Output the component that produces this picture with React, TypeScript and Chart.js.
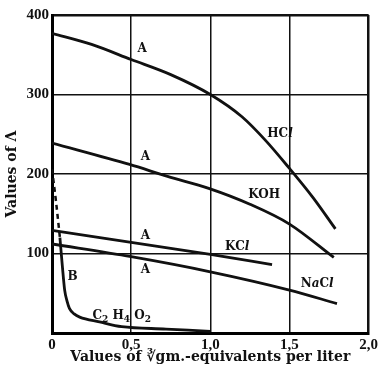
import React, { useEffect, useRef } from 'react';
import { Chart, registerables } from 'chart.js';

Chart.register(...registerables);

// ---- data ----
const xTickValues = [0, 0.5, 1.0, 1.5, 2.0];
const xTickLabels = ['0', '0,5', '1,0', '1,5', '2,0'];
const yTickValues = [0, 100, 200, 300, 400];
const yTickLabels = ['', '100', '200', '300', '400'];

const hclX = [0, 0.25, 0.5, 0.75, 1.0, 1.2, 1.35, 1.5, 1.65, 1.79];
const hclY = [377, 363, 344, 325, 300, 272, 242, 207, 170, 131];

const kohX = [0, 0.49, 0.73, 0.99, 1.25, 1.5, 1.78];
const kohY = [239, 212, 197, 182, 162, 137, 95];

const kclX = [0, 0.5, 1.0, 1.39];
const kclY = [129, 114, 99, 86];

const naclX = [0, 0.5, 1.0, 1.5, 1.8];
const naclY = [112, 96, 77, 54, 37];

const aceticX = [0.05, 0.065, 0.08, 0.095, 0.11, 0.14, 0.175, 0.3, 0.44, 0.72, 1.0];
const aceticY = [120, 85, 54, 40, 31, 24, 20, 14, 8, 5, 2];

const aceticDashX = [0.0, 0.025, 0.05];
const aceticDashY = [206, 166, 120];

// curve labels: *x* = italic, _x_ = subscript
const labelTexts = ['A', 'A', 'A', 'A', 'B', 'HC*l*', 'KOH', 'KC*l*', 'N*a*C*l*', 'C_2_ H_4_ O_2_'];
const labelX = [0.57, 0.59, 0.59, 0.59, 0.13, 1.44, 1.34, 1.17, 1.675, 0.44];
const labelY = [357, 222, 122, 80, 70, 251, 174, 108, 62, 22];

const xTitle = 'Values of \u221Bgm.-equivalents per liter';
const yTitle = 'Values of \u039B';

const FONT = '"Liberation Serif", "DejaVu Serif", serif';
const WIDE = '"DejaVu Serif", "Liberation Serif", serif';
const INK = '#111';

const pts = (xs: number[], ys: number[]) => xs.map((x, i) => ({ x, y: ys[i] }));

function parseRich(s: string) {
  const parts: { t: string; it: boolean; sub: boolean }[] = [];
  let cur = '';
  let it = false;
  let sub = false;
  const push = () => {
    if (cur) parts.push({ t: cur, it, sub });
    cur = '';
  };
  for (const c of s) {
    if (c === '*') { push(); it = !it; }
    else if (c === '_') { push(); sub = !sub; }
    else cur += c;
  }
  push();
  return parts;
}

function drawRich(ctx: CanvasRenderingContext2D, text: string, cx: number, cy: number) {
  const parts = parseRich(text);
  const fontFor = (p: { it: boolean; sub: boolean }) =>
    `${p.it ? 'italic ' : ''}bold ${p.sub ? 9 : 12}px ${WIDE}`;
  let total = 0;
  const widths = parts.map((p) => {
    ctx.font = fontFor(p);
    const w = ctx.measureText(p.t).width;
    total += w;
    return w;
  });
  let x = cx - total / 2;
  parts.forEach((p, i) => {
    ctx.font = fontFor(p);
    ctx.fillText(p.t, x, cy + (p.sub ? 4 : 0));
    x += widths[i];
  });
}

const labelPlugin = {
  id: 'curveLabels',
  afterDatasetsDraw(chart: any) {
    const { ctx, scales } = chart;
    ctx.save();
    ctx.fillStyle = INK;
    ctx.textBaseline = 'middle';
    ctx.textAlign = 'left';
    labelTexts.forEach((t, i) => {
      const px = scales.x.getPixelForValue(labelX[i]);
      const py = scales.y.getPixelForValue(labelY[i]);
      drawRich(ctx, t, px, py);
    });
    ctx.restore();
  },
};

const line = (data: any[], extra: any = {}) => ({
  data,
  showLine: true,
  borderColor: INK,
  borderWidth: 2.8,
  pointRadius: 0,
  cubicInterpolationMode: 'monotone',
  fill: false,
  ...extra,
});

export default function App() {
  const ref = useRef<HTMLCanvasElement | null>(null);

  useEffect(() => {
    if (!ref.current) return;
    const chart = new Chart(ref.current, {
      type: 'scatter',
      data: {
        datasets: [
          line(pts(hclX, hclY)),
          line(pts(kohX, kohY)),
          line(pts(kclX, kclY)),
          line(pts(naclX, naclY)),
          line(pts(aceticX, aceticY)),
          line(pts(aceticDashX, aceticDashY), { borderDash: [5, 4], borderWidth: 2.5 }),
        ] as any,
      },
      options: {
        animation: false,
        responsive: false,
        layout: { padding: { top: 15, right: 9, left: 0, bottom: 0 } },
        plugins: { legend: { display: false }, tooltip: { enabled: false } },
        scales: {
          x: {
            type: 'linear',
            min: 0,
            max: 2,
            afterBuildTicks: (s: any) => {
              s.ticks = xTickValues.map((v) => ({ value: v }));
            },
            afterFit: (s: any) => {
              s.height = 40;
            },
            ticks: {
              padding: 3,
              color: INK,
              font: { family: FONT, size: 15, weight: 'bold' },
              callback: (v: any) => xTickLabels[xTickValues.indexOf(Number(v))] ?? '',
              maxRotation: 0,
            },
            grid: {
              color: INK,
              lineWidth: (c: any) => (c.tick && c.tick.value === 2 ? 2.5 : 1.5),
              drawTicks: false,
            },
            border: { display: true, color: '#000', width: 3 },
            title: {
              display: true,
              text: xTitle,
              color: INK,
              font: { family: WIDE, size: 14, weight: 'bold' },
              padding: { top: 0, bottom: 7 },
            },
          },
          y: {
            type: 'linear',
            min: 0,
            max: 400,
            afterBuildTicks: (s: any) => {
              s.ticks = yTickValues.map((v) => ({ value: v }));
            },
            afterFit: (s: any) => {
              s.width = 52;
            },
            ticks: {
              padding: 3,
              color: INK,
              font: { family: FONT, size: 15, weight: 'bold' },
              callback: (v: any) => yTickLabels[yTickValues.indexOf(Number(v))] ?? '',
            },
            grid: {
              color: INK,
              lineWidth: (c: any) => (c.tick && c.tick.value === 400 ? 2.5 : 1.5),
              drawTicks: false,
            },
            border: { display: true, color: '#000', width: 3 },
            title: {
              display: true,
              text: yTitle,
              color: INK,
              font: { family: WIDE, size: 14, weight: 'bold' },
              padding: { top: 4, bottom: 0 },
            },
          },
        },
      } as any,
      plugins: [labelPlugin],
    });
    return () => chart.destroy();
  }, []);

  return (
    <div style={{ position: 'fixed', left: 0, top: 0, width: 381, height: 373, background: '#fff' }}>
      <canvas ref={ref} width={381} height={373} style={{ display: 'block' }} />
    </div>
  );
}
